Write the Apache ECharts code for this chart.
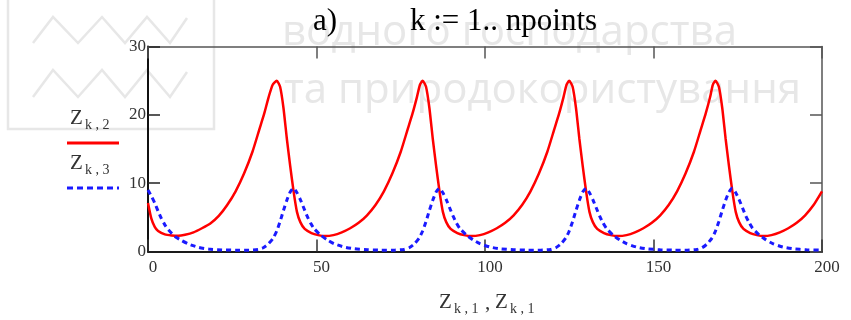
<!DOCTYPE html>
<html><head><meta charset="utf-8">
<script src="https://cdn.jsdelivr.net/npm/echarts@6/dist/echarts.min.js"></script>
<style>html,body{margin:0;padding:0;background:#fff}#c{width:851px;height:320px}</style>
</head><body><div id="c"></div>
<script>
// ---- data ----
const xTicks = [0, 50, 100, 150, 200];
const yTicks = [0, 10, 20, 30];

// Z<k,2> (red, solid)
const redX = [0,1,2,3,5,7,9,11,13.5,16,18.5,21,23.5,26,28.5,31,33,34.5,35.8,37,38.2,39.2,40.2,41.2,42.2,43.2,44.2,45.2,46.5,48.5,50.5,52.5,55,57.5,60,62.5,65,67.5,70,72.5,75,77,78.5,79.8,80.7,81.5,82.5,83.5,84.5,85.5,86.5,87.5,88.5,89.8,91.8,93.8,96,98.5,101,103.5,106,108.5,111,113.5,116,118.5,120.5,122,123.3,124.2,125,126,127,128,129,130,131,132,133.3,135.3,137.3,139.5,142,144.5,147,149.5,152,154.5,157,159.5,162,164,165.5,166.8,167.6,168.4,169.4,170.4,171.4,172.4,173.4,174.4,175.4,176.7,178.7,180.7,182.7,185,187.5,190,192.5,195,197.5,200];
const redY = [7.1,4.8,3.6,3.0,2.5,2.35,2.3,2.45,2.8,3.4,4.1,5.2,6.8,8.8,11.4,14.6,17.8,20.2,22.6,24.4,25.0,24.1,21.0,16.5,12.5,8.8,5.8,4.3,3.3,2.7,2.4,2.27,2.4,2.8,3.4,4.2,5.3,6.8,8.8,11.4,14.6,17.8,20.2,22.6,24.4,25.0,24.1,21.0,16.5,12.5,8.8,5.8,4.3,3.3,2.7,2.4,2.27,2.4,2.8,3.4,4.2,5.3,6.8,8.8,11.4,14.6,17.8,20.2,22.6,24.4,25.0,24.1,21.0,16.5,12.5,8.8,5.8,4.3,3.3,2.7,2.4,2.27,2.4,2.8,3.4,4.2,5.3,6.8,8.8,11.4,14.6,17.8,20.2,22.6,24.4,25.0,24.1,21.0,16.5,12.5,8.8,5.8,4.3,3.3,2.7,2.4,2.27,2.4,2.8,3.4,4.2,5.3,6.8,8.8];

// Z<k,3> (blue, dotted)
const blueX = [0,1,2,3,4,5,6,8,10,12,15,18,22,26,30,32.7,34.2,35.7,37.2,38.2,39.2,40.2,41.2,42.2,43.2,44.2,45.2,46.2,47.2,48.2,49.2,51.2,53.2,55.2,58.2,61.2,65.2,69.2,73.2,76,77.5,79,80.5,81.5,82.5,83.5,84.5,85.5,86.5,87.5,88.5,89.5,90.5,91.5,92.5,94.5,96.5,98.5,101.5,104.5,108.5,112.5,116.5,119.5,121,122.5,124,125,126,127,128,129,130,131,132,133,134,135,136,138,140,142,145,148,152,156,160,162.9,164.4,165.9,167.4,168.4,169.4,170.4,171.4,172.4,173.4,174.4,175.4,176.4,177.4,178.4,179.4,181.4,183.4,185.4,188.4,191.4,195.4,200];
const blueY = [9.0,8.1,7.1,5.9,4.8,3.9,3.2,2.2,1.6,1.1,0.6,0.35,0.22,0.2,0.2,0.3,0.55,1.1,2.0,3.0,4.4,6.0,7.5,8.7,9.25,8.6,7.6,6.4,5.2,4.2,3.4,2.4,1.7,1.15,0.65,0.4,0.25,0.2,0.2,0.3,0.55,1.1,2.0,3.0,4.4,6.0,7.5,8.7,9.25,8.6,7.6,6.4,5.2,4.2,3.4,2.4,1.7,1.15,0.65,0.4,0.25,0.2,0.2,0.3,0.55,1.1,2.0,3.0,4.4,6.0,7.5,8.7,9.25,8.6,7.6,6.4,5.2,4.2,3.4,2.4,1.7,1.15,0.65,0.4,0.25,0.2,0.2,0.3,0.55,1.1,2.0,3.0,4.4,6.0,7.5,8.7,9.25,8.6,7.6,6.4,5.2,4.2,3.4,2.4,1.7,1.15,0.65,0.4,0.25,0.2];

const titleLeft = 'a)';
const titleRight = 'k := 1.. npoints';
const watermark1 = 'водного господарства';
const watermark2 = 'та природокористування';

// ---- chart ----
const SERIF = '"Liberation Serif","Times New Roman",serif';
const SANS = '"Open Sans","Noto Sans",sans-serif';
const pairs = (xs, ys) => xs.map((x, i) => [x, ys[i]]);
const xInt = xTicks[1] - xTicks[0], yInt = yTicks[1] - yTicks[0];

const chart = echarts.init(document.getElementById('c'), null, {renderer: 'canvas'});

function zsub(x, y, sub) {
  return [
    {type: 'text', left: x, top: y - 12, z: 50,
     style: {text: 'Z', font: '21px ' + SERIF, fill: '#333'}},
    {type: 'text', left: x + 15, top: y - 2, z: 50,
     style: {text: sub, font: '14px ' + SERIF, fill: '#333'}}
  ];
}
const WM = '#e7e7e7';
const graphics = [
  // faint watermark (logo + text)
  {type: 'rect', z: -5, shape: {x: 8, y: -20, width: 206, height: 149}, style: {fill: 'none', stroke: WM, lineWidth: 2.5}},
  {type: 'polyline', z: -5, shape: {points: [[33,43],[53,17],[78,43],[102,17],[125,43],[147,17],[170,43],[187,18]]}, style: {fill: 'none', stroke: WM, lineWidth: 2.5}},
  {type: 'polyline', z: -5, shape: {points: [[33,97],[53,70],[78,97],[102,70],[125,97],[147,70],[170,97],[187,72]]}, style: {fill: 'none', stroke: WM, lineWidth: 2.5}},
  {type: 'text', z: -5, left: 282, top: 12, style: {text: watermark1, font: '42px ' + SANS, fill: WM}},
  {type: 'text', z: -5, left: 284, top: 70, style: {text: watermark2, font: '42px ' + SANS, fill: WM}},
  // title
  {type: 'text', left: 313, top: 6, z: 50, style: {text: titleLeft, font: '31px ' + SERIF, fill: '#000'}},
  {type: 'text', left: 410, top: 6, z: 50, style: {text: titleRight, font: '31px ' + SERIF, fill: '#000'}},
  // legend
  ...zsub(70, 120, 'k , 2'),
  {type: 'line', z: 50, shape: {x1: 67, y1: 143, x2: 119, y2: 143}, style: {stroke: '#ff0000', lineWidth: 3}},
  ...zsub(70, 165, 'k , 3'),
  {type: 'line', z: 50, shape: {x1: 67, y1: 188, x2: 119, y2: 188}, style: {stroke: '#1a1aff', lineWidth: 3, lineDash: [6, 4]}},
  // x axis title
  ...zsub(439, 304, 'k , 1'),
  {type: 'text', left: 485, top: 293, z: 50, style: {text: ',', font: '21px ' + SERIF, fill: '#333'}},
  ...zsub(495, 304, 'k , 1')
];

const axisBase = {
  type: 'value', splitLine: {show: false}
};
chart.setOption({
  animation: false,
  backgroundColor: '#fff',
  grid: {left: 148, right: 29, top: 46.5, bottom: 68.5, containLabel: false},
  xAxis: [
    Object.assign({}, axisBase, {
      min: xTicks[0], max: xTicks[xTicks.length - 1], interval: xInt, position: 'bottom',
      axisLine: {show: true, onZero: false, lineStyle: {color: '#1a1a1a', width: 2}},
      axisTick: {show: true, inside: true, length: 12, lineStyle: {color: '#333', width: 1.5}},
      axisLabel: {show: true, margin: 8, color: '#333', fontFamily: SERIF, fontSize: 17, padding: [0, 0, 0, 10]}
    }),
    Object.assign({}, axisBase, {
      min: xTicks[0], max: xTicks[xTicks.length - 1], interval: xInt, position: 'top',
      axisLine: {show: true, onZero: false, lineStyle: {color: '#555', width: 1.5}},
      axisTick: {show: true, inside: true, length: 12, lineStyle: {color: '#555', width: 1.5}},
      axisLabel: {show: false}
    })
  ],
  yAxis: [
    Object.assign({}, axisBase, {
      min: yTicks[0], max: yTicks[yTicks.length - 1], interval: yInt, position: 'left',
      axisLine: {show: true, onZero: false, lineStyle: {color: '#111', width: 2}},
      axisTick: {show: true, inside: true, length: 12, lineStyle: {color: '#222', width: 1.5}},
      axisLabel: {show: true, margin: 2, color: '#333', fontFamily: SERIF, fontSize: 17}
    }),
    Object.assign({}, axisBase, {
      min: yTicks[0], max: yTicks[yTicks.length - 1], interval: yInt, position: 'right',
      axisLine: {show: true, onZero: false, lineStyle: {color: '#555', width: 1.5}},
      axisTick: {show: true, inside: true, length: 12, lineStyle: {color: '#555', width: 1.5}},
      axisLabel: {show: false}
    })
  ],
  series: [
    {type: 'line', name: 'Z k,2', data: pairs(redX, redY), showSymbol: false, symbol: 'none',
     smooth: 0.2, lineStyle: {color: '#ff0000', width: 2.5}, z: 3},
    {type: 'line', name: 'Z k,3', data: pairs(blueX, blueY), showSymbol: false, symbol: 'none',
     smooth: 0.2, lineStyle: {color: '#1a1aff', width: 3, type: [5, 4]}, z: 4}
  ],
  graphic: graphics
});
</script>
</body></html>
